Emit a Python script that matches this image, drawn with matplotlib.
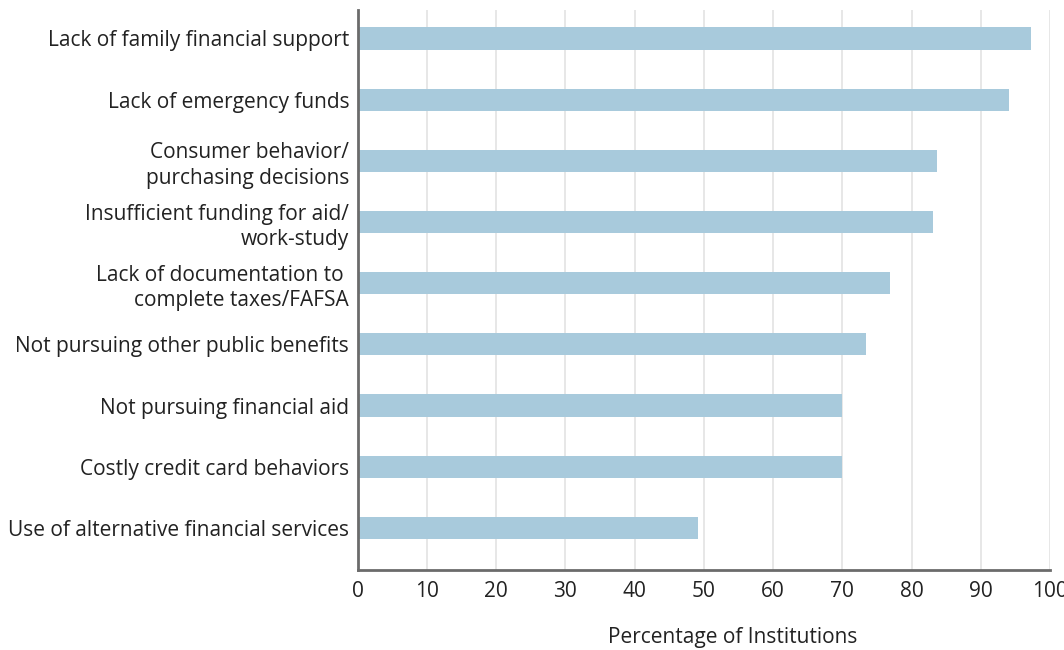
import matplotlib
matplotlib.use("Agg")
import matplotlib.pyplot as plt

categories = [
    "Lack of family financial support",
    "Lack of emergency funds",
    "Consumer behavior/\npurchasing decisions",
    "Insufficient funding for aid/\nwork-study",
    "Lack of documentation to \ncomplete taxes/FAFSA",
    "Not pursuing other public benefits",
    "Not pursuing financial aid",
    "Costly credit card behaviors",
    "Use of alternative financial services",
]
values = [97.3, 94.0, 83.7, 83.1, 76.9, 73.4, 69.9, 69.9, 49.2]
x_ticks = list(range(0, 101, 10))

plt.rcParams["font.family"] = ["Open Sans", "DejaVu Sans"]

fig = plt.figure(figsize=(10.64, 6.5), dpi=100)
ax = fig.add_axes([0.336, 0.123, 0.651, 0.862])

y = list(range(len(categories)))[::-1]
ax.barh(y, values, height=0.36, color="#a8cadc", zorder=2)

ax.set_xlim(0, 100)
ax.set_ylim(-0.69, len(categories) - 1 + 0.47)
ax.set_xticks(x_ticks)
ax.set_yticks(y)
ax.set_yticklabels(categories, fontsize=15, color="#222222", linespacing=1.3)
ax.tick_params(axis="both", length=0, colors="#222222", labelsize=15)
ax.tick_params(axis="y", pad=6)
ax.tick_params(axis="x", pad=8)

ax.grid(axis="x", color="#e3e3e3", linewidth=1.2, zorder=0)
for side in ["top", "right"]:
    ax.spines[side].set_visible(False)
for side in ["left", "bottom"]:
    ax.spines[side].set_color("#6b6b6b")
    ax.spines[side].set_linewidth(2)

ax.set_xlabel("Percentage of Institutions", fontsize=15, color="#222222")
ax.xaxis.set_label_coords(0.542, -0.121)
ax.xaxis.label.set_va("center")

fig.savefig("out.png", dpi=100)
